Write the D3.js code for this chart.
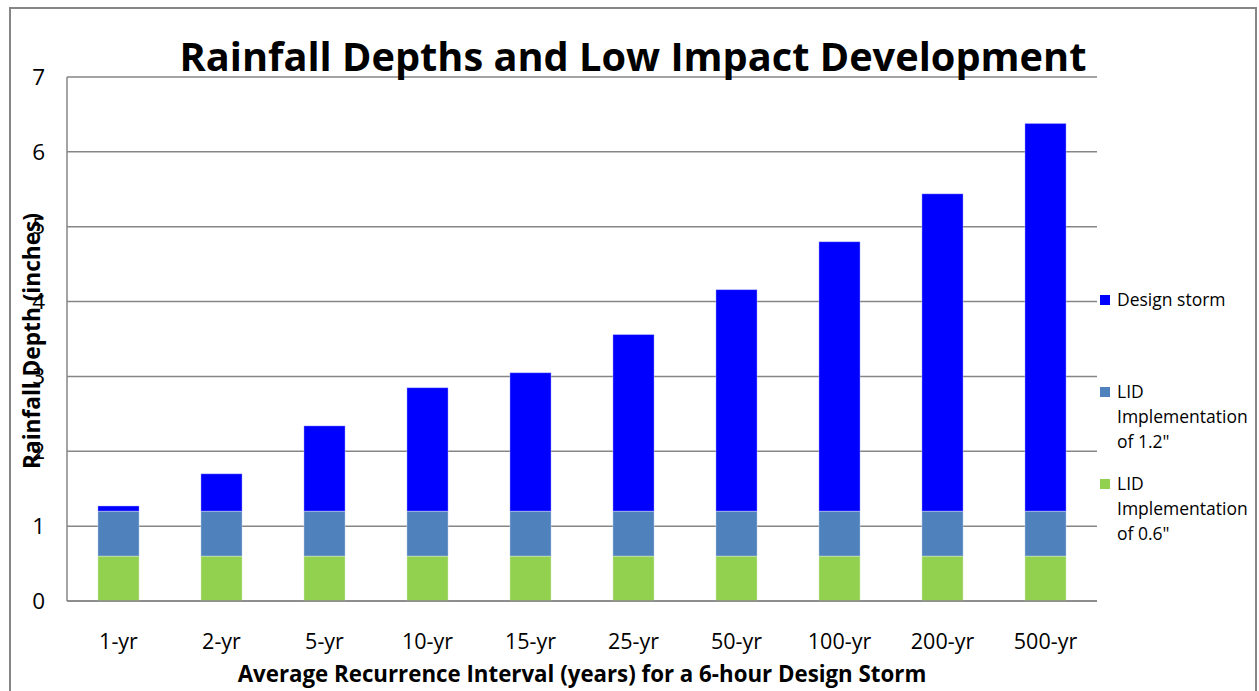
<!DOCTYPE html>
<html>
<head>
<meta charset="utf-8">
<script src="https://cdn.jsdelivr.net/npm/d3@7"></script>
<style>
  html, body { margin: 0; padding: 0; background: #fff; }
  svg { display: block; font-family: "Open Sans", "Noto Sans", sans-serif; }
</style>
</head>
<body>
<svg id="chart" width="1259" height="691"></svg>
<script>
// Recurrence intervals of the 6-hour design storm
const categories = ["1-yr", "2-yr", "5-yr", "10-yr", "15-yr", "25-yr", "50-yr", "100-yr", "200-yr", "500-yr"];
// Stacked segments (inches): bottom, middle, top
const lid06 = [0.6, 0.6, 0.6, 0.6, 0.6, 0.6, 0.6, 0.6, 0.6, 0.6];
const lid12 = [0.6, 0.6, 0.6, 0.6, 0.6, 0.6, 0.6, 0.6, 0.6, 0.6];
const designStorm = [0.07, 0.50, 1.14, 1.65, 1.85, 2.36, 2.96, 3.60, 4.24, 5.18];
const yTicks = [0, 1, 2, 3, 4, 5, 6, 7];

const seriesKeys = ["lid06", "lid12", "design"];
const colors = { lid06: "#92D050", lid12: "#4F81BD", design: "#0000FF" };

const rows = categories.map((c, i) => ({ cat: c, lid06: lid06[i], lid12: lid12[i], design: designStorm[i] }));
const stacked = d3.stack().keys(seriesKeys)(rows);

const svg = d3.select("#chart");
const plot = { left: 67, right: 1097, top: 77, bottom: 601 };

// scale a text's font size so that it spans the given width
function fitWidth(sel, target) {
  const w = sel.node().getComputedTextLength();
  const fs = +sel.attr("font-size");
  sel.attr("font-size", (fs * target / w).toFixed(2));
}

// outer chart frame
svg.append("rect")
  .attr("x", 10).attr("y", 8)
  .attr("width", 1246).attr("height", 700)
  .attr("fill", "#fff").attr("stroke", "#868686").attr("stroke-width", 2);

const x = d3.scaleBand().domain(categories)
  .range([plot.left, plot.right])
  .paddingInner(0.6).paddingOuter(0.3);
const y = d3.scaleLinear().domain([0, 7]).range([plot.bottom, plot.top]);

// gridlines
svg.append("g").selectAll("line").data(yTicks).join("line")
  .attr("x1", plot.left).attr("x2", plot.right)
  .attr("y1", d => y(d)).attr("y2", d => y(d))
  .attr("stroke", "#868686").attr("stroke-width", 1.5);

// y axis line
svg.append("line")
  .attr("x1", plot.left).attr("x2", plot.left)
  .attr("y1", plot.top).attr("y2", plot.bottom)
  .attr("stroke", "#868686").attr("stroke-width", 1.5);

// y tick labels
const yAxis = d3.axisLeft(y).tickValues(yTicks).tickSize(0).tickPadding(22).tickFormat(d3.format("d"));
const gy = svg.append("g").attr("transform", `translate(${plot.left},0)`).call(yAxis);
gy.select(".domain").remove();
gy.selectAll("text").attr("font-size", 22.5).attr("fill", "#000").attr("font-family", "Open Sans");

// y axis title
const yTitle = svg.append("text")
  .attr("transform", `translate(40,${(plot.top + plot.bottom) / 2 + 2}) rotate(-90)`)
  .attr("text-anchor", "middle")
  .attr("font-size", 19).attr("font-weight", "bold").attr("fill", "#000")
  .text("Rainfall Depth (inches)");
fitWidth(yTitle, 256);

// bars
svg.append("g").selectAll("g").data(stacked).join("g")
  .attr("fill", d => colors[d.key])
  .selectAll("rect").data(d => d).join("rect")
  .attr("x", d => x(d.data.cat))
  .attr("width", x.bandwidth())
  .attr("y", d => y(d[1]))
  .attr("height", d => y(d[0]) - y(d[1]))
  .attr("stroke", "rgba(255,255,255,0.35)").attr("stroke-width", 1);

// x axis line
svg.append("line")
  .attr("x1", plot.left).attr("x2", plot.right)
  .attr("y1", plot.bottom).attr("y2", plot.bottom)
  .attr("stroke", "#868686").attr("stroke-width", 1.5);

// x tick labels
const xAxis = d3.axisBottom(x).tickSize(0).tickPadding(33);
const gx = svg.append("g").attr("transform", `translate(0,${plot.bottom})`).call(xAxis);
gx.select(".domain").remove();
gx.selectAll("text").attr("font-size", 21.5).attr("fill", "#000").attr("font-family", "Open Sans");

// x axis title
const xTitle = svg.append("text")
  .attr("x", (plot.left + plot.right) / 2).attr("y", 682)
  .attr("text-anchor", "middle")
  .attr("font-size", 20).attr("font-weight", "bold").attr("fill", "#000")
  .text("Average Recurrence Interval (years) for a 6-hour Design Storm");
fitWidth(xTitle, 689);

// chart title
const title = svg.append("text")
  .attr("x", 633).attr("y", 71)
  .attr("text-anchor", "middle")
  .attr("font-size", 38).attr("font-weight", "bold").attr("fill", "#000")
  .text("Rainfall Depths and Low Impact Development");
fitWidth(title, 907);

// legend (top series first)
const legendItems = [
  { key: "design", lines: ["Design storm"], y: 306 },
  { key: "lid12", lines: ["LID", "Implementation", "of 1.2\""], y: 398 },
  { key: "lid06", lines: ["LID", "Implementation", "of 0.6\""], y: 490 }
];
const lg = svg.append("g").selectAll("g").data(legendItems).join("g");
lg.append("rect")
  .attr("x", 1100).attr("y", d => d.y - 11)
  .attr("width", 10).attr("height", 10)
  .attr("fill", d => colors[d.key]);
lg.append("text")
  .attr("font-size", 17.5).attr("fill", "#000")
  .selectAll("tspan").data(d => d.lines.map((t, i) => ({ t, i, y0: d.y }))).join("tspan")
  .attr("x", 1117).attr("y", d => d.y0 + d.i * 25)
  .text(d => d.t);
</script>
</body>
</html>
